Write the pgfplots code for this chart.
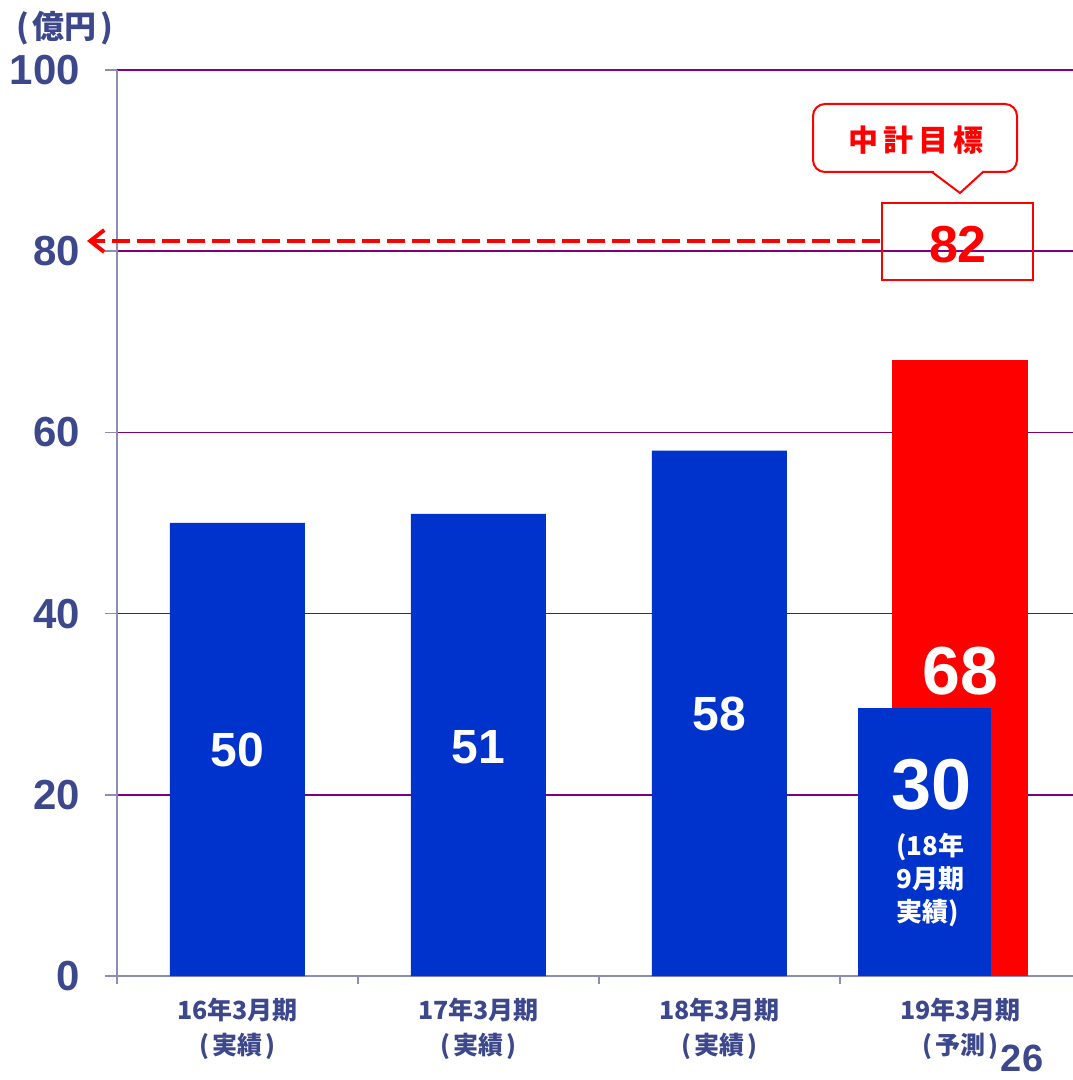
\documentclass[border=0pt]{standalone}
\usepackage{pgfplots}
\pgfplotsset{compat=1.18}
\usepackage{fontspec}
\setmainfont{Liberation Sans}
\newfontfamily\jp{Noto Sans CJK JP}
\usetikzlibrary{calc,arrows.meta}
\definecolor{navy}{RGB}{61,72,140}
\definecolor{barblue}{RGB}{0,51,204}
\definecolor{gridpurple}{RGB}{128,0,128}
\definecolor{axisgrey}{RGB}{140,140,180}
\begin{document}
\begin{tikzpicture}[x=1pt,y=1pt]
\begin{axis}[
  scale only axis, width=956pt, height=906pt,
  xmin=-0.5, xmax=3.467, ymin=0, ymax=100,
  axis x line=bottom, axis y line=left,
  axis line style={axisgrey, line width=2pt, -},
  ytick={0,20,40,60,80,100},
  ymajorgrids, grid style={gridpurple, line width=1.7pt},
  tick align=outside,
  major tick length=12pt, minor tick length=8pt,
  tick style={axisgrey, line width=1.5pt},
  xtick={0,1,2,3},
  xticklabels={16年3月期\\(\hspace{3pt}実績\hspace{3pt}),17年3月期\\(\hspace{3pt}実績\hspace{3pt}),18年3月期\\(\hspace{3pt}実績\hspace{3pt}),19年3月期\\(\hspace{3pt}予測\hspace{3pt})},
  major x tick style={draw=none},
  minor xtick={-0.5,0.5,1.5,2.5},
  /pgf/number format/assume math mode=true,
  yticklabel style={font=\fontsize{42}{42}\selectfont\bfseries, text=navy, anchor=east, inner sep=0pt, xshift=-25pt},
  xticklabel style={font=\fontsize{25}{35}\selectfont\jp\bfseries, text=navy, align=center, anchor=north, inner sep=0pt, yshift=-10pt},
  clip=false,
]
\addplot[ybar, bar width=135pt, bar shift=0pt, fill=barblue, draw=none] coordinates {(0,50) (1,51) (2,58)};
\addplot[ybar, bar width=136pt, bar shift=0pt, fill=red, draw=none] coordinates {(3,68)};
\addplot[ybar, bar width=133pt, bar shift=0pt, fill=barblue, draw=none] coordinates {(2.85,29.6)};
\coordinate (sw) at (rel axis cs:0,0);
\node[white, font=\fontsize{48}{48}\selectfont\bfseries] at (axis cs:0,24.9) {50};
\node[white, font=\fontsize{48}{48}\selectfont\bfseries] at (axis cs:1,25.2) {51};
\node[white, font=\fontsize{48}{48}\selectfont\bfseries] at (axis cs:2,28.9) {58};
\node[white, font=\fontsize{68}{68}\selectfont\bfseries] at (axis cs:3.0,33.6) {68};
\node[white, font=\fontsize{72}{72}\selectfont\bfseries] at (axis cs:2.878,21.1) {30};
\node[white, font=\fontsize{26}{33}\selectfont\jp\bfseries, align=left] at (axis cs:2.875,10.6) {(18年\\9月期\\実績)};
\end{axis}
\begin{scope}[shift={($(sw)+(-117pt,976pt)$)}, yscale=-1]
  \draw[red, line width=2pt, fill=white, rounded corners=12pt] (813,104) rectangle (1017,172);
  \fill[white] (933.5,169) rectangle (981.5,175);
  \draw[red, line width=2pt, fill=white] (932,172) -- (960,193) -- (983,172);
  \node[red, font=\fontsize{30}{30}\selectfont\jp\bfseries] at (916,140) {中\hspace{5pt}計\hspace{5pt}目\hspace{5pt}標};
  \draw[red, line width=2pt] (882,203) rectangle (1033,280);
  \node[red, font=\fontsize{52}{52}\selectfont\bfseries] at (958,245) {82};
  \draw[red, line width=4pt, dash pattern=on 18pt off 7pt, -{Straight Barb[length=14pt, width=22pt]}] (880,241) -- (87,241);
  \node[navy, font=\fontsize{32}{32}\selectfont\jp\bfseries] at (65,28) {(\hspace{4pt}億円\hspace{4pt})};
  \node[navy, font=\fontsize{38}{38}\selectfont\bfseries] at (1022,1058) {26};
\end{scope}
\pgfresetboundingbox
\path ($(sw)+(-117pt,-104pt)$) rectangle ($(sw)+(956pt,976pt)$);
\end{tikzpicture}
\end{document}
